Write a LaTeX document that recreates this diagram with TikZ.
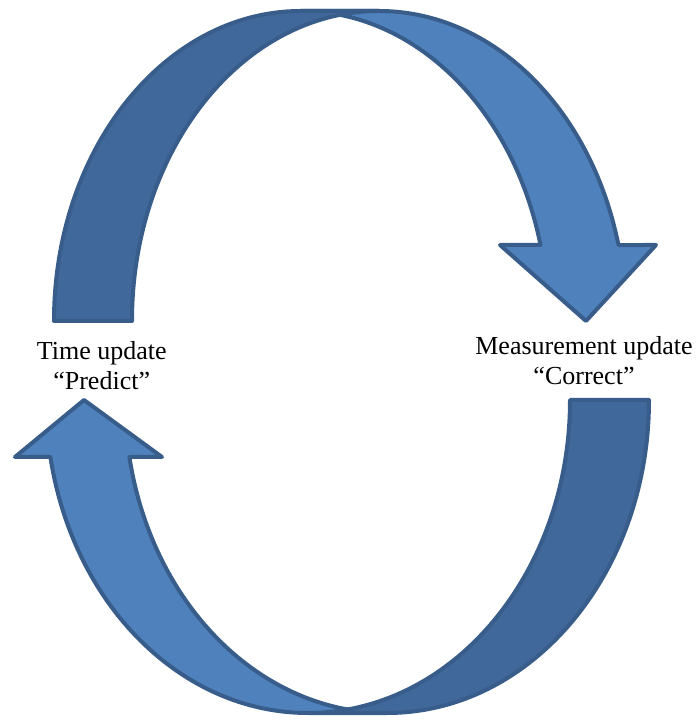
\documentclass[tikz,border=0pt]{standalone}
\usepackage{fontspec}
\setmainfont{Liberation Serif}
\usepackage{xcolor}
\definecolor{arrowfront}{HTML}{4F81BD}
\definecolor{arrowback}{HTML}{41689A}
\definecolor{arrowline}{HTML}{385D8A}
\begin{document}
\begin{tikzpicture}
  [
    x=1pt, y=1pt,
    front/.style={
       fill=arrowfront,
       draw=arrowline,
       line width=4pt,
       line join=round
    },
    back/.style={
       fill=arrowback,
       draw=arrowline,
       line width=4pt,
       line join=round
    },
    caption/.style={
       align=center,
       font=\fontsize{26}{30}\selectfont,
       inner sep=0pt
    }
  ]
  \useasboundingbox (0,0) rectangle (697,720);

  % upper arrow, light part first
  \draw [front] (586,399) -- (500,475) -- (540.5,475)
     arc [start angle=14.19, end angle=90, x radius=247, y radius=310]
     -- (379,709)
     arc [start angle=90, end angle=14.19, x radius=247, y radius=310]
     -- (656,475) -- cycle;
  \draw [back] (54,399)
     arc [start angle=180, end angle=90, x radius=247, y radius=310]
     -- (379,709)
     arc [start angle=90, end angle=180, x radius=247, y radius=310]
     -- cycle;

  % lower arrow
  \draw [front] (84,320) -- (162,263) -- (129.4,263)
     arc [start angle=190.49, end angle=270, x radius=262, y radius=313]
     -- (308,7)
     arc [start angle=270, end angle=190.49, x radius=262, y radius=313]
     -- (15,263) -- cycle;
  \draw [back] (649,320)
     arc [start angle=0, end angle=-90, x radius=262, y radius=313]
     -- (308,7)
     arc [start angle=270, end angle=360, x radius=262, y radius=313]
     -- cycle;

  \node (timeupd) [caption] at (101.7,354.4) {Time update\\“Predict”};
  \node (measupd) [caption] at (584,359.7) {Measurement update\\“Correct”};
\end{tikzpicture}
\end{document}
